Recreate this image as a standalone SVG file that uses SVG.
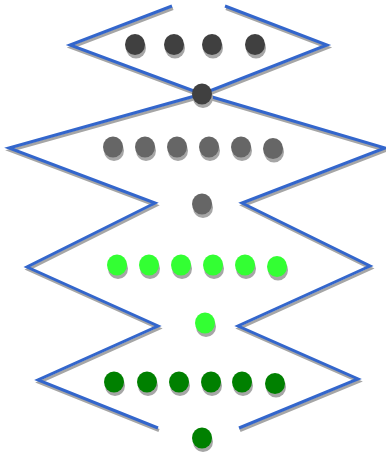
<svg xmlns="http://www.w3.org/2000/svg" width="386" height="456" viewBox="0 0 386 456">
<defs>
<style>
.ln{fill:none;stroke:#3366cc;stroke-width:3;stroke-linejoin:miter;stroke-miterlimit:10}
.lns{fill:none;stroke:#a6a6a6;stroke-width:3;stroke-linejoin:miter;stroke-miterlimit:10}
.sh{fill:#a6a6a6}
.d1{fill:#404040}
.d2{fill:#666666}
.d3{fill:#33ff33}
.d4{fill:#008000}
</style>
<ellipse id="dot" cx="0" cy="0" rx="10" ry="10.5"/>
</defs>
<rect width="386" height="456" fill="#ffffff"/>
<g id="connectors">
<g transform="translate(1,2.5)">
<polyline class="lns" points="172,6 70,45 202,94 385,148 242,203 370,266 238,326 358,379 239,428"/>
<polyline class="lns" points="225,6 327,45 202,94 9,148 155,203 27,267 158,326 38,380 158,428"/>
</g>
<polyline class="ln" points="172,6 70,45 202,94 385,148 242,203 370,266 238,326 358,379 239,428"/>
<polyline class="ln" points="225,6 327,45 202,94 9,148 155,203 27,267 158,326 38,380 158,428"/>
</g>
<g id="row1">
<use href="#dot" class="sh" x="136" y="48"/><use href="#dot" class="d1" x="135" y="44.5"/>
<use href="#dot" class="sh" x="175" y="48"/><use href="#dot" class="d1" x="174" y="44.5"/>
<use href="#dot" class="sh" x="213" y="48"/><use href="#dot" class="d1" x="212" y="44.5"/>
<use href="#dot" class="sh" x="256" y="48"/><use href="#dot" class="d1" x="255" y="44.5"/>
</g>
<g id="node1">
<use href="#dot" class="sh" x="203" y="97.5"/><use href="#dot" class="d1" x="202" y="94"/>
</g>
<g id="row2">
<use href="#dot" class="sh" x="114" y="150.5"/><use href="#dot" class="d2" x="113" y="147"/>
<use href="#dot" class="sh" x="146" y="150.5"/><use href="#dot" class="d2" x="145" y="147"/>
<use href="#dot" class="sh" x="178" y="150.5"/><use href="#dot" class="d2" x="177" y="147"/>
<use href="#dot" class="sh" x="210" y="150.5"/><use href="#dot" class="d2" x="209" y="147"/>
<use href="#dot" class="sh" x="242" y="150.5"/><use href="#dot" class="d2" x="241" y="147"/>
<use href="#dot" class="sh" x="274" y="152"/><use href="#dot" class="d2" x="273" y="148.5"/>
</g>
<g id="node2">
<use href="#dot" class="sh" x="203" y="207.5"/><use href="#dot" class="d2" x="202" y="204"/>
</g>
<g id="row3">
<use href="#dot" class="sh" x="118" y="268.5"/><use href="#dot" class="d3" x="117" y="265"/>
<use href="#dot" class="sh" x="150" y="268.5"/><use href="#dot" class="d3" x="149" y="265"/>
<use href="#dot" class="sh" x="182" y="268.5"/><use href="#dot" class="d3" x="181" y="265"/>
<use href="#dot" class="sh" x="214" y="268.5"/><use href="#dot" class="d3" x="213" y="265"/>
<use href="#dot" class="sh" x="246" y="268.5"/><use href="#dot" class="d3" x="245" y="265"/>
<use href="#dot" class="sh" x="278" y="270"/><use href="#dot" class="d3" x="277" y="266.5"/>
</g>
<g id="node3">
<use href="#dot" class="sh" x="206" y="326.5"/><use href="#dot" class="d3" x="205" y="323"/>
</g>
<g id="row4">
<use href="#dot" class="sh" x="115" y="385.5"/><use href="#dot" class="d4" x="114" y="382"/>
<use href="#dot" class="sh" x="148" y="385.5"/><use href="#dot" class="d4" x="147" y="382"/>
<use href="#dot" class="sh" x="180" y="385.5"/><use href="#dot" class="d4" x="179" y="382"/>
<use href="#dot" class="sh" x="212" y="385.5"/><use href="#dot" class="d4" x="211" y="382"/>
<use href="#dot" class="sh" x="243" y="385.5"/><use href="#dot" class="d4" x="242" y="382"/>
<use href="#dot" class="sh" x="276" y="387"/><use href="#dot" class="d4" x="275" y="383.5"/>
</g>
<g id="node4">
<use href="#dot" class="sh" x="203" y="441.5"/><use href="#dot" class="d4" x="202" y="438"/>
</g>
</svg>
